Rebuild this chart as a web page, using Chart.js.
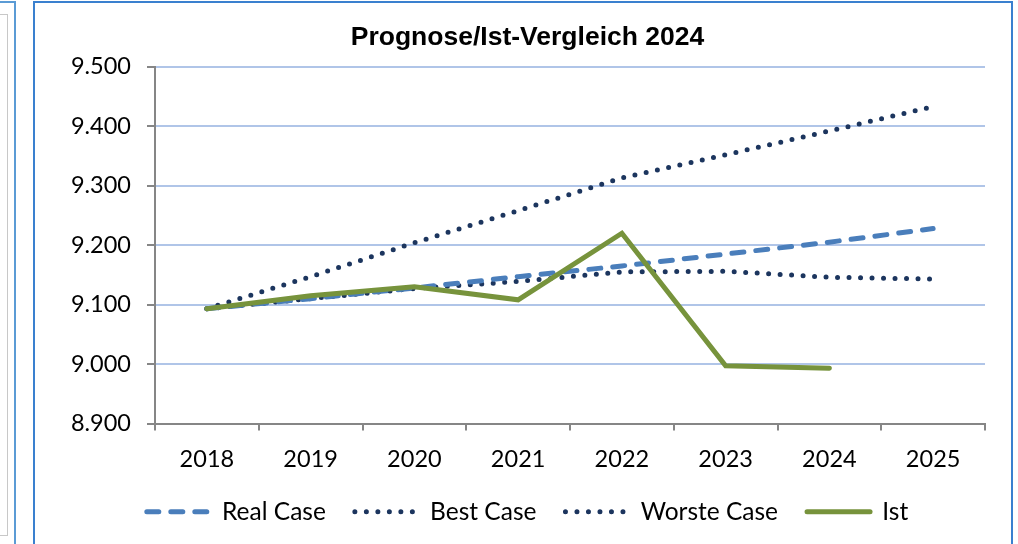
<!DOCTYPE html>
<html>
<head>
<meta charset="utf-8">
<script src="https://cdn.jsdelivr.net/npm/chart.js@4/dist/chart.umd.min.js"></script>
<style>
  html, body { margin: 0; padding: 0; background: #fff; }
  #wrap { position: relative; width: 1018px; height: 544px; overflow: hidden; }
  .side { position: absolute; left: -4px; top: 1px; width: 16px; height: 560px; border: 2px solid #5b9bd5; }
  .sideInner { position: absolute; left: -4px; top: 14px; width: 10px; height: 520px; border: 1px solid #c8c8c8; }
  .frame { position: absolute; left: 33px; top: 1px; width: 976px; height: 560px; border: 2px solid #3a80cf; }
  canvas { position: absolute; left: 0; top: 0; }
</style>
</head>
<body>
<div id="wrap">
  <div class="side"></div>
  <div class="sideInner"></div>
  <div class="frame"></div>
  <canvas id="chart" width="1018" height="544"></canvas>
</div>
<script>
// --- DATA ---
const years = ['2018', '2019', '2020', '2021', '2022', '2023', '2024', '2025'];
const realCase = [9093, 9110, 9128, 9147, 9165, 9185, 9205, 9228];
const bestCase = [9093, 9147, 9204, 9258, 9313, 9352, 9392, 9433];
const worstCase = [9093, 9110, 9127, 9139, 9155, 9156, 9146, 9143];
const ist = [9093, 9115, 9130, 9108, 9220, 8997, 8993];
const yTicks = [8900, 9000, 9100, 9200, 9300, 9400, 9500];

const gridBlue = '#b0c5e8';
const axisGray = '#868686';
const tickFont = { family: 'Lato', size: 23.5 };
const legendFont = { family: 'Lato', size: 24.5 };

function fmt(v) {
    // German thousands separator, e.g. 9.500
    return Math.floor(v / 1000) + '.' + String(v % 1000).padStart(3, '0');
}

const ctx = document.getElementById('chart').getContext('2d');

new Chart(ctx, {
    type: 'line',
    data: {
        labels: years,
        datasets: [
            {
                label: 'Real Case',
                data: realCase,
                borderColor: '#4a7ebb',
                borderWidth: 5,
                borderDash: [12, 12],
                borderCapStyle: 'round',
                pointRadius: 0,
                order: 1
            },
            {
                label: 'Best Case',
                data: bestCase,
                borderColor: '#1c355e',
                borderWidth: 5,
                borderDash: [0, 11.5],
                borderCapStyle: 'round',
                pointRadius: 0,
                order: 2
            },
            {
                label: 'Worste Case',
                data: worstCase,
                borderColor: '#1c355e',
                borderWidth: 5,
                borderDash: [0, 11.5],
                borderCapStyle: 'round',
                pointRadius: 0,
                order: 3
            },
            {
                label: 'Ist',
                data: ist,
                borderColor: '#77933c',
                borderWidth: 5,
                borderCapStyle: 'round',
                borderJoinStyle: 'miter',
                pointRadius: 0,
                order: 0
            }
        ]
    },
    options: {
        responsive: false,
        animation: false,
        layout: { padding: { left: 70, right: 33, top: 22, bottom: 10 } },
        scales: {
            x: {
                offset: true,
                grid: {
                    offset: true,
                    drawOnChartArea: false,
                    color: axisGray,
                    tickColor: axisGray,
                    tickLength: 7,
                    lineWidth: 2
                },
                border: { color: axisGray, width: 2 },
                ticks: { color: '#000', font: tickFont, padding: 15, maxRotation: 0 },
                afterFit: s => { s.height = 47; }
            },
            y: {
                min: 8900,
                max: 9500,
                afterBuildTicks: s => { s.ticks = yTicks.map(v => ({ value: v })); },
                grid: {
                    color: gridBlue,
                    tickColor: axisGray,
                    tickLength: 8,
                    lineWidth: 2
                },
                border: { color: axisGray, width: 2 },
                ticks: { color: '#000', font: tickFont, padding: 16, callback: v => fmt(v) },
                afterFit: s => { s.width = 85; }
            }
        },
        plugins: {
            title: {
                display: true,
                text: 'Prognose/Ist-Vergleich 2024',
                color: '#000',
                font: { family: 'Liberation Sans', size: 26.5, weight: 'bold' },
                padding: { top: 0, bottom: 13 }
            },
            legend: {
                position: 'bottom',
                labels: {
                    color: '#000',
                    font: legendFont,
                    usePointStyle: true,
                    pointStyleWidth: 63,
                    boxHeight: 5,
                    padding: 29,
                    generateLabels: chart => {
                        const items = Chart.defaults.plugins.legend.labels.generateLabels(chart);
                        items.sort((a, b) => a.datasetIndex - b.datasetIndex);
                        return items.map(it => {
                            const ds = chart.data.datasets[it.datasetIndex];
                            it.pointStyle = 'line';
                            it.lineWidth = ds.borderWidth;
                            it.lineDash = ds.borderDash || [];
                            it.lineCap = 'round';
                            it.strokeStyle = ds.borderColor;
                            return it;
                        });
                    }
                }
            },
            tooltip: { enabled: false }
        }
    }
});
</script>
</body>
</html>
